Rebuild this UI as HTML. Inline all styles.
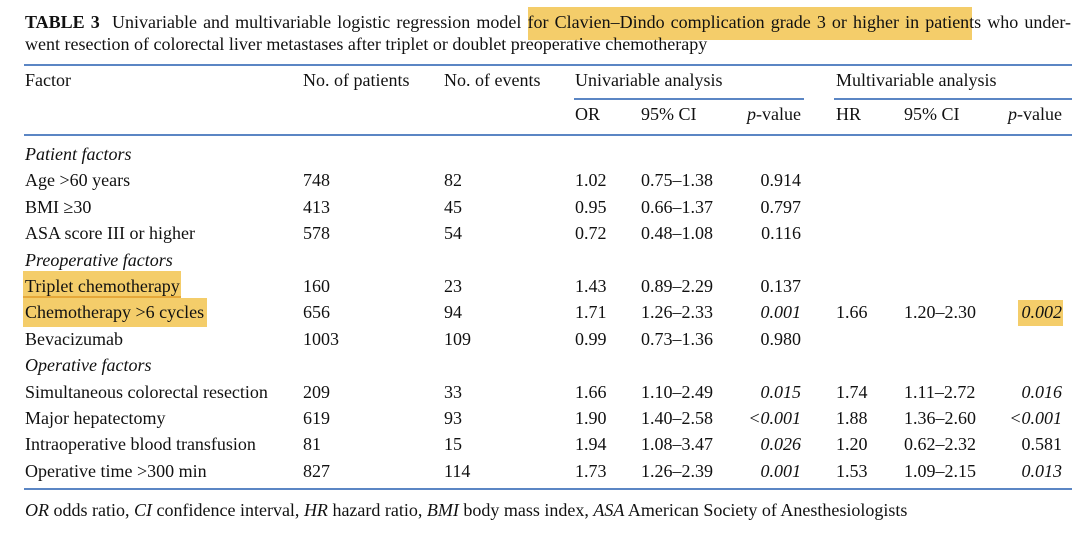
<!DOCTYPE html>
<html><head><meta charset="utf-8"><style>
body{margin:0;width:1080px;height:549px;background:#fff;position:relative;overflow:hidden;font-family:"Liberation Serif",serif;font-size:18px;color:#111}
.t{position:absolute;white-space:nowrap;line-height:20px}
.r{text-align:right}
.hl{position:absolute;background:#f4cd6a}
.ln{position:absolute;height:2px;background:#5b86c4}
i{font-style:italic}
</style></head><body>
<div class="hl" style="left:528px;top:7px;width:444px;height:33px"></div>
<div class="hl" style="left:23px;top:271px;width:158px;height:25px"></div>
<div class="hl" style="left:23px;top:296px;width:158px;height:2px;background:#e5a83a"></div>
<div class="hl" style="left:23px;top:298px;width:184px;height:29px"></div>
<div class="hl" style="left:1018px;top:300px;width:45px;height:26px"></div>

<div class="t" style="left:25px;top:12px;width:1046px;text-align:justify;text-align-last:justify;white-space:normal"><b>TABLE 3</b>&nbsp; Univariable and multivariable logistic regression model for Clavien–Dindo complication grade 3 or higher in patients who under-</div>
<div class="t" style="left:25px;top:34px">went resection of colorectal liver metastases after triplet or doublet preoperative chemotherapy</div>

<div class="ln" style="left:24px;top:64px;width:1048px"></div>
<div class="ln" style="left:574px;top:98px;width:230px"></div>
<div class="ln" style="left:834px;top:98px;width:238px"></div>
<div class="ln" style="left:24px;top:134px;width:1048px"></div>
<div class="ln" style="left:24px;top:488px;width:1048px"></div>

<div class="t" style="left:25px;top:70px">Factor</div>
<div class="t" style="left:303px;top:70px">No. of patients</div>
<div class="t" style="left:444px;top:70px">No. of events</div>
<div class="t" style="left:575px;top:70px">Univariable analysis</div>
<div class="t" style="left:836px;top:70px">Multivariable analysis</div>
<div class="t" style="left:575px;top:104px">OR</div>
<div class="t" style="left:641px;top:104px">95% CI</div>
<div class="t r" style="left:700px;width:101px;top:104px"><i>p</i>-value</div>
<div class="t" style="left:836px;top:104px">HR</div>
<div class="t" style="left:904px;top:104px">95% CI</div>
<div class="t r" style="left:960px;width:102px;top:104px"><i>p</i>-value</div>

<div id="rows"></div>
<script>
var rows=[
["<i>Patient factors</i>"],
["Age &gt;60 years","748","82","1.02","0.75–1.38","0.914"],
["BMI ≥30","413","45","0.95","0.66–1.37","0.797"],
["ASA score III or higher","578","54","0.72","0.48–1.08","0.116"],
["<i>Preoperative factors</i>"],
["Triplet chemotherapy","160","23","1.43","0.89–2.29","0.137"],
["Chemotherapy &gt;6 cycles","656","94","1.71","1.26–2.33","<i>0.001</i>","1.66","1.20–2.30","<i>0.002</i>"],
["Bevacizumab","1003","109","0.99","0.73–1.36","0.980"],
["<i>Operative factors</i>"],
["Simultaneous colorectal resection","209","33","1.66","1.10–2.49","<i>0.015</i>","1.74","1.11–2.72","<i>0.016</i>"],
["Major hepatectomy","619","93","1.90","1.40–2.58","<i>&lt;0.001</i>","1.88","1.36–2.60","<i>&lt;0.001</i>"],
["Intraoperative blood transfusion","81","15","1.94","1.08–3.47","<i>0.026</i>","1.20","0.62–2.32","0.581"],
["Operative time &gt;300 min","827","114","1.73","1.26–2.39","<i>0.001</i>","1.53","1.09–2.15","<i>0.013</i>"]
];
var xs=[25,303,444,575,641,null,836,904,null],h="";
rows.forEach(function(r,i){var y=Math.round(144+i*26.4);
r.forEach(function(c,j){
if(j==5)h+='<div class="t r" style="left:700px;width:101px;top:'+y+'px">'+c+'</div>';
else if(j==8)h+='<div class="t r" style="left:960px;width:102px;top:'+y+'px">'+c+'</div>';
else h+='<div class="t" style="left:'+xs[j]+'px;top:'+y+'px">'+c+'</div>';});});
document.getElementById('rows').innerHTML=h;
</script>
<div class="t" style="left:25px;top:500px"><i>OR</i> odds ratio, <i>CI</i> confidence interval, <i>HR</i> hazard ratio, <i>BMI</i> body mass index, <i>ASA</i> American Society of Anesthesiologists</div>
</body></html>
